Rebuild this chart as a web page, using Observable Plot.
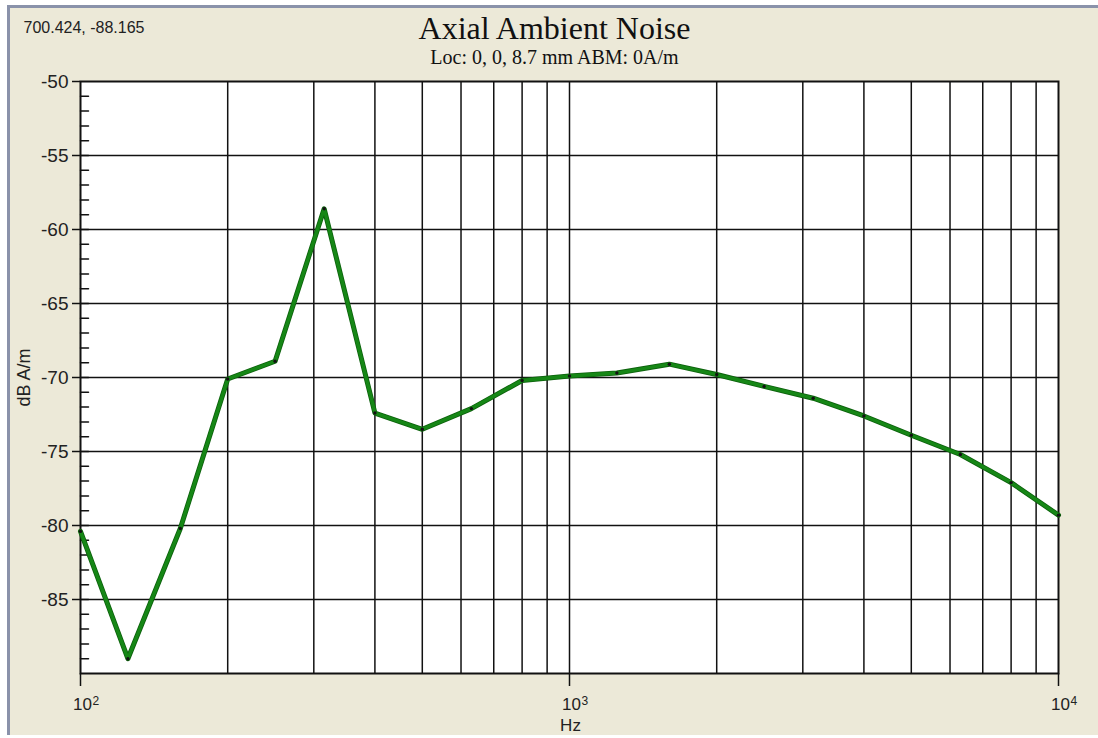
<!DOCTYPE html>
<html>
<head>
<meta charset="utf-8">
<script src="https://cdn.jsdelivr.net/npm/d3@7"></script>
<script src="https://cdn.jsdelivr.net/npm/@observablehq/plot@0.6"></script>
<style>
  html, body { margin: 0; padding: 0; background: #ffffff; width: 1098px; height: 738px; overflow: hidden; }
  #win { position: absolute; left: 7px; top: 5px; width: 1088px; height: 727px;
         background: #ECE9D8; border-left: 3px solid #8A92AA; border-top: 3px solid #8A92AA; }
  #chart { position: absolute; left: 0; top: 0; }
</style>
</head>
<body>
<div id="win"></div>
<div id="chart"></div>
<script>
// ---- data ----
const freqs  = [100, 125, 160, 200, 250, 315, 400, 500, 630, 800, 1000, 1250, 1600, 2000, 2500, 3150, 4000, 5000, 6300, 8000, 10000];
const levels = [-80.4, -89.0, -80.2, -70.1, -68.9, -58.6, -72.4, -73.5, -72.1, -70.2, -69.9, -69.7, -69.1, -69.8, -70.6, -71.4, -72.6, -73.9, -75.2, -77.1, -79.3];

const xTicks    = [100, 1000, 10000];
const xTickBase = ["10", "10", "10"];
const xTickExp  = ["2", "3", "4"];
const xGrid     = [200, 300, 400, 500, 600, 700, 800, 900, 1000, 2000, 3000, 4000, 5000, 6000, 7000, 8000, 9000];
const yTicks    = [-50, -55, -60, -65, -70, -75, -80, -85];
const yGrid     = [-55, -60, -65, -70, -75, -80, -85];
const yMinor    = d3.range(-89, -50);

const titleText    = "Axial Ambient Noise";
const subtitleText = "Loc: 0, 0, 8.7 mm ABM: 0A/m";
const cursorText   = "700.424, -88.165";
const xLabel = "Hz";
const yLabel = "dB A/m";

const data = freqs.map((f, i) => ({hz: f, db: levels[i]}));

const sans = "'Liberation Sans', Arial, sans-serif";
const serif = "'Liberation Serif', 'Times New Roman', serif";
const ink = "#111";
const tickLine = {draw(context, l) { context.moveTo(0, 0); context.lineTo(0, -l); }};

const chart = Plot.plot({
  width: 1098,
  height: 738,
  marginLeft: 80,
  marginRight: 40,
  marginTop: 81,
  marginBottom: 65,
  style: {background: "transparent", fontFamily: sans, color: ink, overflow: "visible"},
  x: {type: "log", domain: [100, 10000]},
  y: {domain: [-90, -50]},
  marks: [
    Plot.frame({fill: "white", stroke: null}),
    Plot.ruleX(xGrid, {stroke: ink, strokeWidth: 1.5}),
    Plot.ruleY(yGrid, {stroke: ink, strokeWidth: 1.5}),
    Plot.vector(yMinor, {y: d => d, frameAnchor: "left", length: 8, rotate: 90, anchor: "start", shape: tickLine, stroke: ink, strokeWidth: 1.5}),
    Plot.frame({stroke: ink, strokeWidth: 2}),
    Plot.axisY({ticks: yTicks, tickSize: 8, tickPadding: 4, tickFormat: d => String(d), fontSize: 19, label: null, strokeWidth: 1.5, fill: "#222"}),
    Plot.axisX({ticks: xTicks, tickSize: 13, tickFormat: () => "", label: null, strokeWidth: 1.5}),
    Plot.text(xTicks, {x: d => d, text: (d, i) => xTickBase[i], frameAnchor: "bottom", dy: 24, dx: 2, lineAnchor: "top", fontSize: 17, fill: "#222"}),
    Plot.text(xTicks, {x: d => d, text: (d, i) => xTickExp[i], frameAnchor: "bottom", dy: 23, dx: 12, textAnchor: "start", lineAnchor: "top", fontSize: 12, fill: "#222"}),
    Plot.line(data, {x: "hz", y: "db", stroke: "#0c600c", strokeWidth: 5, strokeLinejoin: "round"}),
    Plot.line(data, {x: "hz", y: "db", stroke: "#168716", strokeWidth: 3.4, strokeLinejoin: "round"}),
    Plot.dot(data, {x: "hz", y: "db", r: 1.7, fill: "#111", stroke: null}),
    Plot.text([xLabel], {frameAnchor: "bottom", dx: 1, dy: 57, lineAnchor: "bottom", fontSize: 17, fill: "#222"}),
    Plot.text([yLabel], {frameAnchor: "left", dx: -51, rotate: -90, textAnchor: "middle", lineAnchor: "bottom", fontSize: 18, fill: "#222"}),
    Plot.text([titleText], {frameAnchor: "top", dx: -15, dy: -43, lineAnchor: "bottom", fontSize: 32, fontFamily: serif, fill: "#111"}),
    Plot.text([subtitleText], {frameAnchor: "top", dx: -15, dy: -18, lineAnchor: "bottom", fontSize: 20, fontFamily: serif, fill: "#111"}),
    Plot.text([cursorText], {frameAnchor: "top-left", dx: -57, dy: -49, textAnchor: "start", lineAnchor: "bottom", fontSize: 16, fill: "#222"})
  ]
});

document.getElementById("chart").appendChild(chart);
</script>
</body>
</html>
